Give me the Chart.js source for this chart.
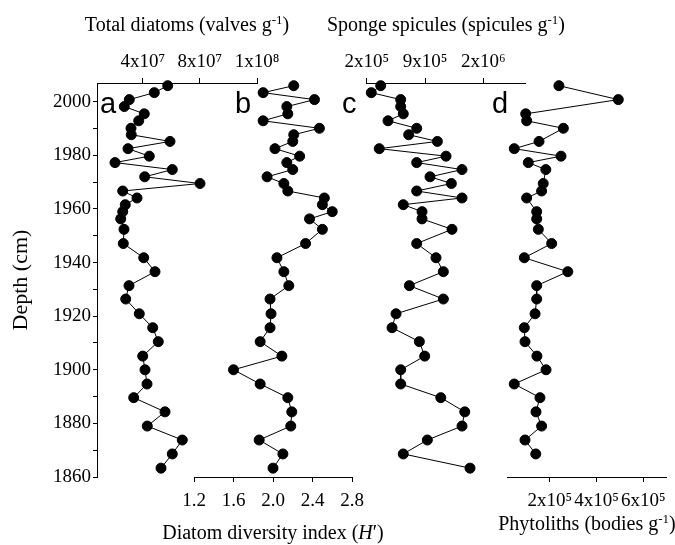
<!DOCTYPE html>
<html>
<head>
<meta charset="utf-8">
<script src="https://cdn.jsdelivr.net/npm/chart.js@4"></script>
<style>
  body { margin: 0; background: #fff; }
  #figure { position: relative; width: 675px; height: 545px; }
  #figure canvas { position: absolute; left: 0; top: 0; }
</style>
</head>
<body>
<div id="figure">
  <canvas id="panelA" width="675" height="545"></canvas>
  <canvas id="panelB" width="675" height="545"></canvas>
  <canvas id="panelC" width="675" height="545"></canvas>
  <canvas id="panelD" width="675" height="545"></canvas>
</div>
<script>
// core depths shared by the diatom and sponge profiles
const depths = [2006, 2003.4, 2000.8, 1998.2, 1995.5, 1992.9, 1990.1, 1987.7, 1985.2, 1982.5,
    1979.7, 1977.3, 1974.7, 1972, 1969.5, 1966.7, 1964.1, 1961.6, 1959, 1956.3,
    1952.4, 1947.1, 1941.8, 1936.6, 1931.4, 1926.4, 1920.9, 1915.7, 1910.5, 1905.1,
    1900, 1894.7, 1889.6, 1884.3, 1879, 1873.8, 1868.6, 1863.3];

// phytoliths were counted on fewer samples
const phytolithDepths = [2006, 2000.8, 1995.5, 1992.9, 1990.1, 1985.2, 1982.5, 1979.7, 1977.3, 1974.7,
    1969.5, 1966.7, 1964.1, 1959, 1956.3, 1952.4, 1947.1, 1941.8, 1936.6, 1931.4,
    1926.4, 1920.9, 1915.7, 1910.5, 1905.1, 1900, 1894.7, 1889.6, 1884.3, 1879,
    1873.8, 1868.6];

const totalDiatoms = [57.5e6, 48.1e6, 30.6e6, 27.1e6, 41.1e6, 37.2e6, 31.8e6, 32.0e6, 59.1e6, 29.7e6,
    44.6e6, 20.6e6, 60.7e6, 41.4e6, 80.1e6, 26.0e6, 36.0e6, 27.8e6, 26.0e6, 24.6e6,
    26.9e6, 26.4e6, 40.7e6, 48.6e6, 30.4e6, 28.1e6, 37.6e6, 47.0e6, 50.9e6, 40.0e6,
    41.6e6, 43.0e6, 33.7e6, 55.6e6, 43.2e6, 67.7e6, 60.7e6, 52.8e6];

const diversity = [2.21, 1.90, 2.42, 2.14, 2.15, 1.90, 2.47, 2.21, 2.20, 2.02,
    2.27, 2.14, 2.20, 1.94, 2.11, 2.15, 2.52, 2.50, 2.60, 2.37,
    2.50, 2.33, 2.04, 2.11, 2.16, 1.97, 1.98, 1.97, 1.87, 2.09,
    1.60, 1.87, 2.15, 2.19, 2.18, 1.86, 2.10, 2.00];

const spicules = [3.68e5, 2.55e5, 6.08e5, 6.08e5, 6.39e5, 4.56e5, 8.00e5, 7.04e5, 10.48e5, 3.51e5,
    11.52e5, 8.00e5, 13.44e5, 9.60e5, 12.16e5, 8.00e5, 13.44e5, 6.39e5, 8.64e5, 8.64e5,
    12.24e5, 8.00e5, 10.32e5, 11.20e5, 7.12e5, 11.20e5, 5.52e5, 5.04e5, 8.32e5, 8.96e5,
    6.08e5, 6.08e5, 10.89e5, 13.77e5, 13.44e5, 9.28e5, 6.39e5, 14.40e5];

const phytoliths = [2.39e5, 4.93e5, 0.97e5, 1.01e5, 2.58e5, 1.54e5, 0.48e5, 2.48e5, 1.08e5, 1.83e5,
    1.72e5, 1.65e5, 1.01e5, 1.44e5, 1.44e5, 1.51e5, 2.08e5, 0.91e5, 2.77e5, 1.44e5,
    1.44e5, 1.37e5, 0.91e5, 0.94e5, 1.45e5, 1.84e5, 0.48e5, 1.58e5, 1.41e5, 1.65e5,
    0.94e5, 1.40e5];

// axis ticks
const depthTicks = [1860, 1870, 1880, 1890, 1900, 1910, 1920, 1930, 1940, 1950, 1960, 1970, 1980, 1990, 2000];
const diatomTicks = [4e7, 8e7, 1.2e8];
const diatomTickLabels = ['4x10⁷', '8x10⁷', '1x10⁸'];
const diversityTicks = [1.2, 1.6, 2.0, 2.4, 2.8];
const diversityTickLabels = ['1.2', '1.6', '2.0', '2.4', '2.8'];
const spiculeTicks = [2e5, 9e5, 1.6e6];
const spiculeTickLabels = ['2x10⁵', '9x10⁵', '2x10⁶'];
const phytolithTicks = [2e5, 4e5, 6e5];
const phytolithTickLabels = ['2x10⁵', '4x10⁵', '6x10⁵'];

const SERIF = "'Liberation Serif', 'Times New Roman', serif";
const SANS = "'Liberation Sans', Arial, sans-serif";
const WIDTH = 675;
const HEIGHT = 545;
const PLOT_TOP = 83;
const PLOT_BOTTOM = 477;
const AXIS_BAND = 40;
const DEPTH_AXIS_WIDTH = 93;

// draws titles with superscripts/italics and the panel letters
const panelText = {
    id: 'panelText',
    afterDraw(chart, args, opts) {
        const ctx = chart.ctx;
        ctx.save();
        ctx.fillStyle = '#000';
        ctx.textAlign = 'left';
        ctx.textBaseline = 'alphabetic';
        for (const item of opts.items || []) {
            let total = 0;
            for (const part of item.parts) {
                ctx.font = part.font;
                part.width = ctx.measureText(part.text).width;
                total += part.width;
            }
            let x = item.align === 'left' ? item.x : item.x - total / 2;
            for (const part of item.parts) {
                ctx.font = part.font;
                ctx.fillText(part.text, x, item.y - (part.rise || 0));
                x += part.width;
            }
        }
        ctx.restore();
    }
};

function unitTitle(label, unit, x, y) {
    return {
        x, y,
        parts: [
            { text: label + ' (' + unit + ' g', font: '20px ' + SERIF },
            { text: '-1', font: '13px ' + SERIF, rise: 7 },
            { text: ')', font: '20px ' + SERIF },
        ]
    };
}

function letter(text, x) {
    return { x, y: 113, align: 'left', parts: [{ text, font: '29px ' + SANS }] };
}

function points(xs, ys) {
    return xs.map((v, i) => ({ x: v, y: ys[i] }));
}

function createPanel(canvasId, p) {
    const top = p.position === 'top';
    const showDepth = !!p.showDepth;
    const left = showDepth ? p.left - DEPTH_AXIS_WIDTH : p.left;

    const config = {
        type: 'scatter',
        data: {
            datasets: [{
                data: points(p.values, p.depths),
                showLine: true,
                borderColor: '#000',
                borderWidth: 1,
                pointRadius: 5,
                pointBackgroundColor: '#000',
                pointBorderColor: '#000',
                pointBorderWidth: 1,
                clip: false,
            }]
        },
        options: {
            responsive: false,
            animation: false,
            layout: {
                padding: {
                    left,
                    right: WIDTH - p.right,
                    top: top ? PLOT_TOP - AXIS_BAND : PLOT_TOP,
                    bottom: top ? HEIGHT - PLOT_BOTTOM : HEIGHT - PLOT_BOTTOM - AXIS_BAND,
                }
            },
            scales: {
                x: {
                    type: 'linear',
                    position: p.position,
                    min: p.min,
                    max: p.max,
                    afterBuildTicks: s => { s.ticks = p.ticks.map(v => ({ value: v })); },
                    afterFit: s => { s.height = AXIS_BAND; },
                    ticks: {
                        callback: (v, i) => p.tickLabels[i],
                        autoSkip: false,
                        maxRotation: 0,
                        minRotation: 0,
                        padding: top ? 5 : 8,
                        color: '#000',
                        font: { family: SERIF, size: 19 },
                    },
                    grid: { drawOnChartArea: false, tickLength: 5, color: '#000' },
                    border: { color: '#000', width: 1 },
                },
                y: {
                    type: 'linear',
                    display: showDepth,
                    position: 'left',
                    min: 1860,
                    max: 2007,
                    afterBuildTicks: s => { s.ticks = depthTicks.map(v => ({ value: v })); },
                    afterFit: s => { s.width = showDepth ? DEPTH_AXIS_WIDTH : 0; },
                    ticks: {
                        callback: v => (v % 20 === 0 ? String(v) : ''),
                        padding: 2,
                        color: '#000',
                        font: { family: SERIF, size: 19 },
                    },
                    grid: { drawOnChartArea: false, tickLength: 4, color: '#000' },
                    border: { color: '#000', width: 1 },
                    title: {
                        display: true,
                        text: 'Depth (cm)',
                        color: '#000',
                        font: { family: SERIF, size: 22 },
                        padding: { top: 4, bottom: 4 },
                    },
                },
            },
            plugins: {
                legend: { display: false },
                tooltip: { enabled: false },
                panelText: { items: p.texts },
            }
        },
        plugins: [panelText],
    };

    return new Chart(document.getElementById(canvasId), config);
}

createPanel('panelA', {
    values: totalDiatoms, depths, position: 'top', showDepth: true,
    left: 97, right: 257, min: 8e6, max: 1.2e8,
    ticks: diatomTicks, tickLabels: diatomTickLabels,
    texts: [unitTitle('Total diatoms', 'valves', 187, 31), letter('a', 100)],
});

createPanel('panelB', {
    values: diversity, depths, position: 'bottom',
    left: 194, right: 352, min: 1.2, max: 2.8,
    ticks: diversityTicks, tickLabels: diversityTickLabels,
    texts: [
        {
            x: 273, y: 539,
            parts: [
                { text: 'Diatom diversity index (', font: '20px ' + SERIF },
                { text: 'H', font: 'italic 20px ' + SERIF },
                { text: '′)', font: '20px ' + SERIF },
            ]
        },
        letter('b', 235),
    ],
});

createPanel('panelC', {
    values: spicules, depths, position: 'top',
    left: 366.7, right: 525, min: 2e5, max: 2.1e6,
    ticks: spiculeTicks, tickLabels: spiculeTickLabels,
    texts: [unitTitle('Sponge spicules', 'spicules', 446, 31), letter('c', 342)],
});

createPanel('panelD', {
    values: phytoliths, depths: phytolithDepths, position: 'bottom',
    left: 507.7, right: 666.7, min: 2e4, max: 7e5,
    ticks: phytolithTicks, tickLabels: phytolithTickLabels,
    texts: [unitTitle('Phytoliths', 'bodies', 587, 530), letter('d', 492)],
});
</script>
</body>
</html>
